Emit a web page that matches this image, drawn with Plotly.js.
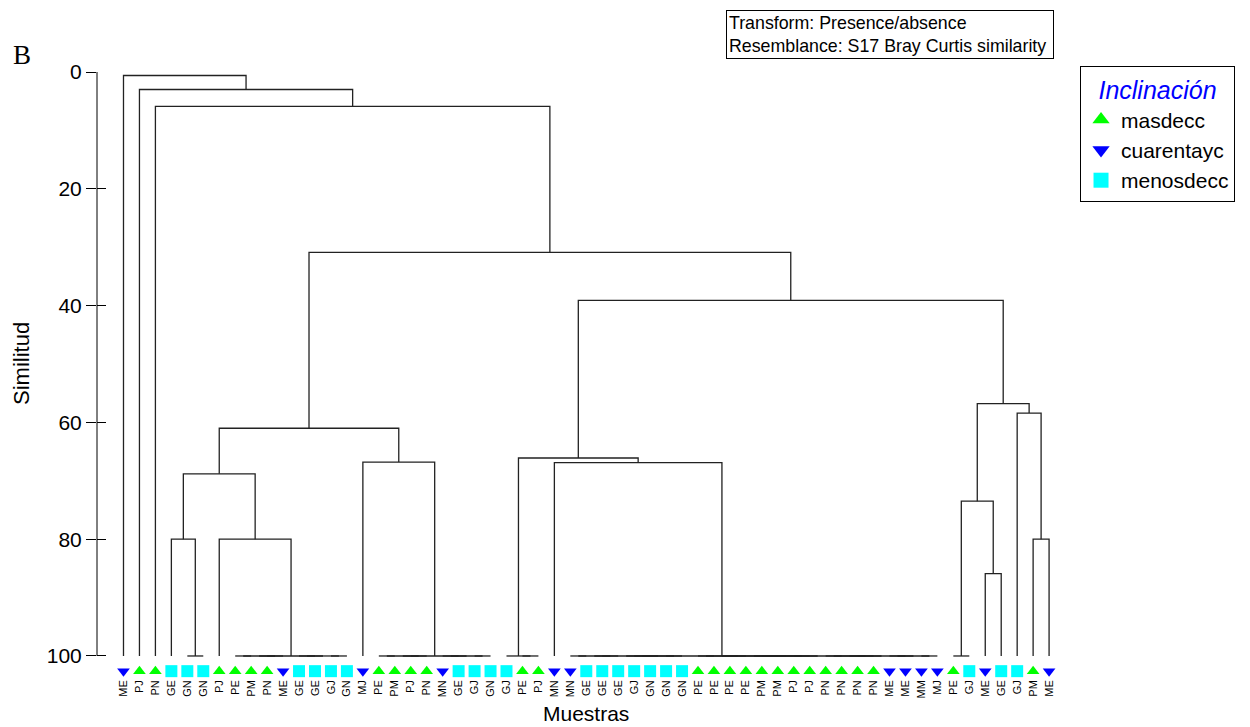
<!DOCTYPE html>
<html>
<head>
<meta charset="utf-8">
<script src="https://cdn.plot.ly/plotly-3.0.1.min.js"></script>
<style>
  html, body { margin: 0; padding: 0; background: #ffffff; }
  #chart { width: 1250px; height: 727px; }
</style>
</head>
<body>
<div id="chart"></div>
<script>
// Sample codes in dendrogram order, left to right
const sampleLabels = ['ME','PJ','PN','GE','GN','GN','PJ','PE','PM','PN','ME','GE','GE','GJ','GN','MJ','PE','PM','PJ','PN','MN','GE','GJ','GN','GJ','PE','PJ','MN','MN','GE','GE','GE','GJ','GN','GN','GN','PE','PE','PE','PE','PM','PM','PJ','PJ','PN','PN','PN','PN','ME','ME','MM','MJ','PE','GJ','ME','GE','GJ','PM','ME'];

// Inclinación factor level of each sample
const sampleGroups = ['cuarentayc','masdecc','masdecc','menosdecc','menosdecc','menosdecc','masdecc','masdecc','masdecc','masdecc','cuarentayc','menosdecc','menosdecc','menosdecc','menosdecc','cuarentayc','masdecc','masdecc','masdecc','masdecc','cuarentayc','menosdecc','menosdecc','menosdecc','menosdecc','masdecc','masdecc','cuarentayc','cuarentayc','menosdecc','menosdecc','menosdecc','menosdecc','menosdecc','menosdecc','menosdecc','masdecc','masdecc','masdecc','masdecc','masdecc','masdecc','masdecc','masdecc','masdecc','masdecc','masdecc','masdecc','cuarentayc','cuarentayc','cuarentayc','cuarentayc','masdecc','menosdecc','cuarentayc','menosdecc','menosdecc','masdecc','cuarentayc'];

const groupNames = ['masdecc', 'cuarentayc', 'menosdecc'];

// Runs of consecutive samples that are identical (joined at similarity 100)
const identicalRuns = {
  t1: [4, 5],
  t2: [7, 14],
  t3: [16, 23],
  t4: [24, 26],
  t5: [28, 35],
  t6: [36, 51],
  t7: [52, 53]
};

// Group-average clustering steps: [node, left child, right child, similarity %]
const merges = [
  ['n10', 't5', 't6', 100],
  ['n17', 57, 58, 80.0],
  ['n16', 54, 55, 85.9],
  ['n14', 't7', 'n16', 73.5],
  ['n15', 56, 'n17', 58.4],
  ['n12', 'n14', 'n15', 56.8],
  ['n13', 27, 'n10', 66.9],
  ['n11', 't4', 'n13', 66.1],
  ['n5', 'n11', 'n12', 39.1],
  ['n7', 15, 't3', 66.8],
  ['n9', 6, 't2', 80.0],
  ['n8', 3, 't1', 80.0],
  ['n6', 'n8', 'n9', 68.8],
  ['n4', 'n6', 'n7', 61.0],
  ['n3', 'n4', 'n5', 30.9],
  ['n2', 2, 'n3', 5.9],
  ['n1', 1, 'n2', 3.0],
  ['root', 0, 'n1', 0.6]
];

const yTicks = [0, 20, 40, 60, 80, 100];

// ---- build the dendrogram line path ----
const lineX = [], lineY = [];
const nodes = {};

function joinPath(a, b, h) {
  lineX.push(a.x, a.x, b.x, b.x, null);
  lineY.push(a.h, h, h, b.h, null);
  return { x: (a.x + b.x) / 2, h: h };
}
function nodeOf(ref) {
  return typeof ref === 'number' ? { x: ref, h: 100 } : nodes[ref];
}
// identical samples merge pairwise, splitting each run in halves
function buildRun(lo, hi) {
  if (lo === hi) return { x: lo, h: 100 };
  const mid = lo + Math.floor((hi - lo + 1) / 2) - 1;
  return joinPath(buildRun(lo, mid), buildRun(mid + 1, hi), 100);
}
Object.keys(identicalRuns).forEach(k => {
  nodes[k] = buildRun(identicalRuns[k][0], identicalRuns[k][1]);
});
merges.forEach(([id, l, r, sim]) => {
  nodes[id] = joinPath(nodeOf(l), nodeOf(r), sim);
});

const font = 'Liberation Sans, Arial, sans-serif';
const symbolOf = { masdecc: 'triangle-up', cuarentayc: 'triangle-down', menosdecc: 'square' };
const colorOf = { masdecc: '#00ff00', cuarentayc: '#0000ff', menosdecc: '#00ffff' };
const markerRow = 102.6;

const traces = [{
  type: 'scatter', mode: 'lines', x: lineX, y: lineY, yaxis: 'y2',
  line: { color: '#222222', width: 1.3 }, hoverinfo: 'skip', showlegend: false
}];

groupNames.forEach(g => {
  const xs = [];
  sampleGroups.forEach((s, i) => { if (s === g) xs.push(i); });
  traces.push({
    type: 'scatter', mode: 'markers', name: g, showlegend: false,
    x: xs, y: xs.map(() => markerRow), cliponaxis: false,
    marker: { symbol: symbolOf[g], color: colorOf[g], size: g === 'menosdecc' ? 12 : 11, line: { width: 0 } }
  });
  // legend key for the group
  traces.push({
    type: 'scatter', mode: 'markers', name: g, showlegend: true,
    x: [null], y: [null],
    marker: { symbol: symbolOf[g], color: colorOf[g], size: 15, line: { width: 0 } }
  });
});

const yRange = [103.6, 0];
const mid = (sampleLabels.length - 1) / 2;

const layout = {
  width: 1250, height: 727,
  margin: { l: 97, r: 169, t: 72, b: 50 },
  paper_bgcolor: '#ffffff', plot_bgcolor: '#ffffff',
  font: { family: font, color: '#000000' },
  showlegend: true,
  xaxis: {
    range: [-1.66, 60],
    tickvals: sampleLabels.map((_, i) => i), ticktext: sampleLabels,
    tickangle: -90, tickfont: { size: 11, family: font, color: '#000' },
    ticks: '', showgrid: false, zeroline: false, showline: false, fixedrange: true
  },
  yaxis: {
    range: yRange, tickvals: yTicks, ticktext: yTicks.map(String),
    ticks: 'outside', ticklen: 10, tickwidth: 1, tickcolor: '#000',
    tickfont: { size: 21, family: font, color: '#000' },
    showgrid: false, zeroline: false, showline: false, fixedrange: true
  },
  yaxis2: {
    overlaying: 'y', side: 'left', range: yRange, tickvals: yTicks,
    ticks: 'inside', ticklen: 9, tickwidth: 1, tickcolor: '#000',
    showticklabels: false, showgrid: false, zeroline: false, showline: false, fixedrange: true
  },
  shapes: [{
    type: 'line', xref: 'paper', x0: 0, x1: 0, yref: 'y',
    y0: yTicks[0], y1: yTicks[yTicks.length - 1],
    line: { color: '#000', width: 1 }, layer: 'above'
  }],
  annotations: [
    { text: 'Similitud', textangle: -90, xref: 'paper', x: -0.0762, xanchor: 'center',
      yref: 'y', y: 50, yanchor: 'middle',
      showarrow: false, font: { size: 22, family: font, color: '#000' } },
    { text: 'Muestras', xref: 'x', x: mid, xanchor: 'center', yref: 'paper', y: -0.061, yanchor: 'middle',
      showarrow: false, font: { size: 21, family: font, color: '#000' } },
    { text: 'B', xref: 'paper', x: -0.0762, xanchor: 'center', yref: 'paper', y: 1.028, yanchor: 'middle',
      showarrow: false, font: { size: 27, family: 'Liberation Serif, Times New Roman, serif', color: '#000' } },
    { text: 'Transform: Presence/absence<br>Resemblance: S17 Bray Curtis similarity&nbsp;',
      xref: 'paper', x: 0.639, xanchor: 'left', yref: 'paper', y: 1.1025, yanchor: 'top',
      align: 'left', showarrow: false, bordercolor: '#000', borderwidth: 1, borderpad: 2,
      bgcolor: '#fff', font: { size: 17.8, family: font, color: '#000' } }
  ],
  legend: {
    x: 0.999, xanchor: 'left', y: 1.010, yanchor: 'top',
    bordercolor: '#000', borderwidth: 1, bgcolor: '#fff', tracegroupgap: 0,
    font: { size: 21, family: font, color: '#000' },
    title: { text: 'Inclinación', side: 'top center',
      font: { size: 25, family: font, color: '#0000ff', style: 'italic' } },
    itemclick: false, itemdoubleclick: false
  }
};

Plotly.newPlot('chart', traces, layout, { staticPlot: true, displayModeBar: false });
</script>
</body>
</html>
